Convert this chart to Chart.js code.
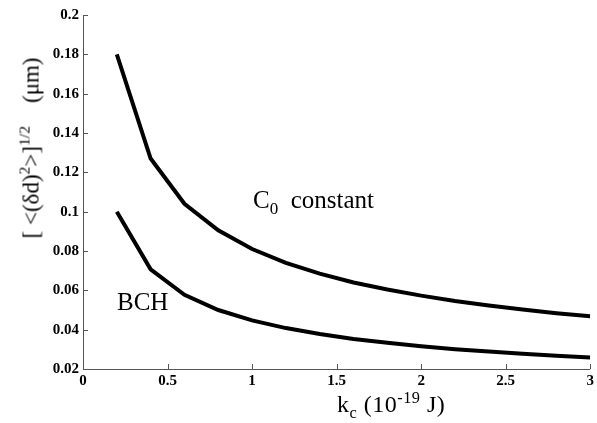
<!DOCTYPE html>
<html>
<head>
<meta charset="utf-8">
<script src="https://cdn.jsdelivr.net/npm/chart.js@4/dist/chart.umd.min.js"></script>
<style>
  html, body { margin: 0; padding: 0; background: #fff; }
  #wrap { position: relative; width: 597px; height: 423px; }
  canvas { position: absolute; left: 0; top: 0; }
  .lbl { position: absolute; font-family: "Liberation Serif", "DejaVu Serif", serif; color: #000; white-space: nowrap; line-height: 1; }
  .lbl sub, .lbl sup { font-size: 0.68em; line-height: 0; }
</style>
</head>
<body>
<div id="wrap">
  <canvas id="c" width="597" height="423"></canvas>
  <div class="lbl" id="ytitle" style="font-size:23px; left:31px; top:148px; transform: translate(-50%,-50%) rotate(-90deg);">[ &lt;(&delta;d)<sup>2</sup>&gt;]<sup>1/2</sup>&nbsp;&nbsp;&nbsp;&nbsp;(&mu;m)</div>
  <div class="lbl" id="xtitle" style="font-size:24px; left:337px; top:392px; letter-spacing:0.5px;">k<sub>c</sub> (10<sup>-19</sup> J)</div>
  <div class="lbl" id="anno1" style="font-size:25px; left:253px; top:187px;">C<sub>0</sub>&nbsp; constant</div>
  <div class="lbl" id="anno2" style="font-size:25px; left:117px; top:289px;">BCH</div>
</div>
<script>
const kc = [0.2, 0.4, 0.6, 0.8, 1.0, 1.2, 1.4, 1.6, 1.8, 2.0, 2.2, 2.4, 2.6, 2.8, 3.0];
const c0Constant = [0.180, 0.127, 0.104, 0.0905, 0.081, 0.074, 0.0685, 0.064, 0.0604, 0.0573, 0.0546, 0.0523, 0.0502, 0.0484, 0.0468];
const bch = [0.100, 0.0707, 0.0577, 0.050, 0.0447, 0.0408, 0.0378, 0.0353, 0.0333, 0.0316, 0.0301, 0.0289, 0.0277, 0.0267, 0.0258];
const xTicks = [0, 0.5, 1, 1.5, 2, 2.5, 3];
const yTicks = [0.02, 0.04, 0.06, 0.08, 0.1, 0.12, 0.14, 0.16, 0.18, 0.2];

const toPts = (xs, ys) => xs.map((x, i) => ({ x: x, y: ys[i] }));
const fmt = v => String(Number(v.toFixed(2)));

const inwardTicks = {
  id: 'inwardTicks',
  afterDraw(chart) {
    const ctx = chart.ctx;
    const xs = chart.scales.x, ys = chart.scales.y;
    const a = chart.chartArea;
    ctx.save();
    ctx.strokeStyle = '#555';
    ctx.lineWidth = 1;
    ctx.beginPath();
    ctx.moveTo(a.left + 0.5, a.top);
    ctx.lineTo(a.left + 0.5, a.bottom + 0.5);
    ctx.lineTo(a.right, a.bottom + 0.5);
    ctx.stroke();
    ctx.beginPath();
    yTicks.forEach(v => {
      const p = Math.round(ys.getPixelForValue(v)) + 0.5;
      ctx.moveTo(a.left, p); ctx.lineTo(a.left + 5, p);
    });
    xTicks.forEach(v => {
      const p = Math.round(xs.getPixelForValue(v)) + 0.5;
      ctx.moveTo(p, a.bottom); ctx.lineTo(p, a.bottom - 5);
    });
    ctx.stroke();
    ctx.restore();
  }
};

new Chart(document.getElementById('c'), {
  type: 'line',
  data: {
    datasets: [
      { label: 'C0 constant', data: toPts(kc, c0Constant), borderColor: '#000', borderWidth: 4, pointRadius: 0, tension: 0, fill: false },
      { label: 'BCH', data: toPts(kc, bch), borderColor: '#000', borderWidth: 4, pointRadius: 0, tension: 0, fill: false }
    ]
  },
  options: {
    responsive: false,
    animation: false,
    devicePixelRatio: 1,
    layout: { padding: { top: 15, right: 2, left: 0, bottom: 0 } },
    plugins: { legend: { display: false }, tooltip: { enabled: false } },
    scales: {
      x: {
        type: 'linear', min: 0, max: 3,
        afterBuildTicks: s => { s.ticks = xTicks.map(v => ({ value: v })); },
        afterFit: s => { s.height = 54; },
        grid: { display: false, drawTicks: false },
        border: { display: false },
        ticks: { color: '#000', padding: 3, maxRotation: 0, callback: v => fmt(v), font: { family: 'Liberation Serif', size: 15, weight: 'bold' } }
      },
      y: {
        type: 'linear', min: 0.02, max: 0.2,
        afterBuildTicks: s => { s.ticks = yTicks.map(v => ({ value: v })); },
        afterFit: s => { s.width = 83; },
        grid: { display: false, drawTicks: false },
        border: { display: false },
        ticks: { color: '#000', padding: 4, callback: v => fmt(v), font: { family: 'Liberation Serif', size: 15, weight: 'bold' } }
      }
    }
  },
  plugins: [inwardTicks]
});
</script>
</body>
</html>
